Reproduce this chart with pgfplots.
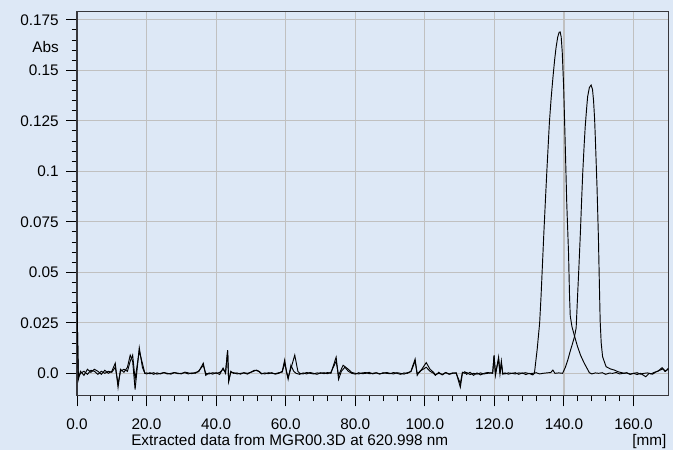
\documentclass[border=0pt]{standalone}
\usepackage{pgfplots}
\pgfplotsset{compat=1.18}
\usepackage{fontspec}
\setmainfont{Liberation Sans}
\definecolor{bgblue}{RGB}{221,232,246}
\definecolor{gridgray}{RGB}{192,192,192}
\definecolor{boxgray}{RGB}{55,55,60}
\begin{document}
\begin{tikzpicture}
\fill[bgblue] (0,0) rectangle (504.75pt,337.5pt);
\begin{axis}[
  at={(57.75pt,40.7pt)}, anchor=south west,
  width=443.5pt, height=288pt, scale only axis,
  xmin=0, xmax=170, ymin=-0.0111, ymax=0.179,
  xtick={0,20,40,60,80,100,120,140,160},
  xticklabels={0.0,20.0,40.0,60.0,80.0,100.0,120.0,140.0,160.0},
  ytick={0,0.025,0.05,0.075,0.1,0.125,0.15,0.175},
  yticklabels={0.0,0.025,0.05,0.075,0.1,0.125,0.15,0.175},
  minor x tick num=4, minor y tick num=4,
  xtick pos=bottom, ytick pos=left,
  tick align=outside, major tick length=8pt, minor tick length=4pt,
  tick style={black, line width=0.75pt},
  grid=major,
  major grid style={gridgray, line width=0.8pt},
  axis line style={boxgray, line width=1.1pt},
  /pgf/number format/assume math mode=true,
  ticklabel style={font=\fontsize{11.5}{13}\selectfont},
  yticklabel style={anchor=east, inner sep=0pt},
  yticklabel shift=5.5pt,
  xticklabel style={anchor=north, inner sep=0pt},
  xticklabel shift=9.4pt,
  clip=true,
]
% trace A (peak near 139 mm)
\addplot[black, line width=0.7pt] coordinates {
(0,0.035) (0.4,-0.003) (1,0.001) (2,-0.001) (3,0.002) (4,0.0005) (5,0.002) (6,0.001) (7,-0.0005) (8,0.0015) (9,0.0) (10,0.001)
(11,0.005) (11.8,-0.007) (12.5,0.002) (13.5,0.0005) (14.5,0.003) (15.3,0.009) (16.0,0.006) (16.7,-0.008) (17.9,0.0127) (18.8,0.003) (19.5,0.0)
(20,-0.0003) (21,0.0003) (22,-0.0005) (23,0.0002) (24,-0.0003) (25,0.0004) (26,0.0) (27,-0.0004) (28,0.0003) (29,0.0001) (30,-0.0003)
(31,0.0006) (32,0.0002) (33,-0.0002) (34,0.0004) (35,0.0008) (36.3,0.005) (37,-0.001) (38,0.0002) (39,-0.0004) (40,0.0003) (41,-0.0006)
(41.5,0.001) (42,0.0026) (42.7,0.0) (43.3,0.0115) (43.6,-0.004) (44.2,0.001) (45,0.0) (46,0.0002) (47,-0.0004) (48,0.0003) (49,0.0)
(50,0.0005) (51,0.0012) (51.6,0.0016) (52.5,0.0008) (53,-0.0003) (54,0.0002) (55,-0.0002) (56,0.0003) (57,-0.0004) (58,0.0) (59,0.001)
(59.7,0.0066) (60.3,0.0) (60.7,-0.003) (61.5,0.004) (62.3,0.001) (63,0.0) (64,-0.0005) (65,0.0002) (66,-0.0003) (67,0.0004) (68,0.0)
(69,-0.0005) (70,0.0003) (71,-0.0002) (72,0.0004) (73,0.0) (74.5,0.008) (75.2,-0.003) (76,0.001) (77,0.003) (78,0.001) (79,0.0)
(80,-0.0004) (81,0.0003) (82,-0.0002) (83,0.0) (84,0.0005) (85,-0.0003) (86,0.0002) (87,-0.0004) (88,0.0003) (89,0.0) (90,-0.0002)
(91,0.0004) (92,0.0) (93,-0.0005) (94,0.0002) (95,0.0) (96,0.001) (97.2,0.0071) (97.8,-0.001) (98.5,0.001) (99.5,0.002) (100.4,0.003)
(101.5,0.001) (102.5,0.0) (103,-0.001) (104,0.0005) (105,-0.0008) (106,0.0003) (107,-0.0005) (108,0.0) (109,0.0003) (110.2,-0.0069)
(110.8,0.0) (111.5,0.0008) (112,-0.0005) (113,0.0005) (114,-0.001) (115,0.0002) (116,-0.0008) (117,0.0) (118,0.0004) (119.5,0.0)
(119.9,0.009) (120.3,-0.001) (121.2,0.008) (121.6,0.0) (122,0.006) (122.4,-0.0005) (123,0.0002) (124,-0.0004) (125,0.0) (126,0.0003)
(127,-0.0005) (128,0.0002) (129,-0.0006) (130,0.0) (131,-0.0008) (131.5,0.0) (132.3,0.012) (133.0,0.0249) (133.4,0.0379) (134.2,0.069)
(134.7,0.087) (135.1,0.101) (135.8,0.124) (136.3,0.136) (136.8,0.146) (137.3,0.155) (137.7,0.161) (138.2,0.1665) (138.6,0.1688) (138.9,0.169)
(139.2,0.1665) (139.5,0.159) (139.9,0.142) (140.3,0.117) (140.8,0.084) (141.3,0.060) (141.6,0.038) (141.8,0.0285) (142.3,0.023) (143.1,0.018)
(143.9,0.0132) (144.8,0.0088) (145.8,0.0051) (147.3,0.0003) (148,-0.0003)
(149,0.0002) (150,0.0) (151,0.0003) (152,-0.0005) (153,0.0001) (154,0.0) (155,0.0004) (156,-0.0003) (157,0.0) (158,0.0002) (159,-0.0005)
(160,0.0) (161,0.0003) (162,-0.0004) (163,0.0) (164,0.0002) (165,-0.0003) (166,0.0005) (167,0.001) (168.2,0.0028) (169,0.001) (170,0.002)
};
% trace B (peak near 148 mm)
\addplot[black, line width=0.7pt] coordinates {
(0,0.034) (0.4,-0.002) (1,0.0) (2,0.001) (3,-0.0005) (4,0.0015) (5,0.001) (6,-0.0005) (7,0.001) (8,0.0) (9,0.001) (10,0.0005)
(11,0.003) (11.8,-0.005) (12.5,0.001) (13.5,0.002) (14.5,0.001) (15.3,0.006) (16.0,0.009) (16.7,-0.003) (17.9,0.011) (18.8,0.005) (19.5,0.0)
(20,0.0002) (21,-0.0002) (22,0.0003) (23,-0.0004) (24,0.0) (25,0.0003) (26,-0.0003) (27,0.0) (28,0.0004) (29,-0.0002) (30,0.0)
(31,0.0003) (32,-0.0003) (33,0.0002) (34,0.0) (35,0.0012) (36.3,0.004) (37,0.0) (38,-0.0003) (39,0.0003) (40,0.0) (41,0.0004)
(42,0.002) (42.7,0.0005) (43.3,0.011) (43.6,-0.004) (44.2,0.0005) (45,0.0003) (46,-0.0003) (47,0.0) (48,0.0002) (49,-0.0004) (50,0.0006)
(51,0.0015) (52,0.0012) (53,0.0) (54,-0.0003) (55,0.0003) (56,0.0) (57,-0.0002) (58,0.0003) (59,0.0006) (59.7,0.005) (60.3,0.0005)
(60.7,-0.002) (61.6,0.003) (62.6,0.009) (63.5,0.001) (64,0.0) (65,-0.0003) (66,0.0004) (67,0.0) (68,-0.0003) (69,0.0002) (70,0.0)
(71,0.0003) (72,-0.0002) (73,0.0005) (74.5,0.006) (75.2,-0.001) (76.5,0.004) (78,0.002) (79,0.0004) (80,0.0) (81,-0.0003) (82,0.0002)
(83,0.0004) (84,-0.0002) (85,0.0) (86,0.0003) (87,-0.0002) (88,0.0) (89,0.0004) (90,0.0) (91,-0.0003) (92,0.0003) (93,0.0) (94,-0.0004)
(95,0.0003) (96,0.0008) (97.2,0.006) (97.8,0.0) (98.5,0.0005) (99.5,0.003) (100.4,0.0053) (101.5,0.002) (102.5,0.0005) (103,-0.0007)
(104,0.0) (105,-0.0005) (106,0.0004) (107,-0.0003) (108,0.0002) (109,0.0) (110.2,-0.005) (110.8,0.0005) (111.5,0.0) (112,0.0004)
(113,-0.0006) (114,0.0) (115,-0.0004) (116,0.0002) (117,-0.0003) (118,0.0) (119.5,0.0003) (119.9,0.0085) (120.3,0.0) (121.2,0.007)
(121.6,-0.0005) (122,0.005) (122.4,0.0) (123,-0.0003) (124,0.0002) (125,0.0) (126,-0.0003) (127,0.0002) (128,0.0) (129,0.0003) (130,-0.0002)
(131,0.0) (132,0.0003) (133,-0.0003) (134,0.0) (135,0.0002) (136.2,0.0004) (136.8,0.0016) (137.4,0.0) (138.5,0.0002) (139.6,0.0)
(140.4,0.003) (141.1,0.0066) (141.8,0.011) (142.5,0.015) (143.0,0.018) (143.5,0.0225) (143.9,0.038) (144.3,0.053) (144.7,0.069) (145.1,0.087)
(145.4,0.0996) (145.8,0.113) (146.1,0.122) (146.5,0.131) (146.8,0.137) (147.3,0.1415) (147.8,0.1427) (148.2,0.1405) (148.5,0.135)
(148.8,0.126) (149.0,0.117) (149.5,0.092) (149.9,0.067) (150.2,0.042) (150.4,0.026) (150.7,0.015) (151.1,0.0082) (152.1,0.0033)
(153.3,0.0022) (154.5,0.0016) (155.5,0.0008) (157.3,0.0) (158,0.0003) (159,-0.0004) (160,0.0) (161,-0.0006) (162,0.0) (163.5,-0.0017)
(164.5,0.0) (165.5,-0.0004) (166.5,0.0008) (167.5,0.0015) (168.5,0.0022) (169.2,0.001) (170,0.0025)
};
\end{axis}
\node[anchor=east, inner sep=0pt, font=\fontsize{11.5}{13}\selectfont] at (44.25pt,302.5pt) {Abs};
\node[anchor=base west, inner sep=0pt, font=\fontsize{11.5}{13}\selectfont] at (98.25pt,3.6pt) {Extracted data from MGR00.3D at 620.998 nm};
\node[anchor=base east, inner sep=0pt, font=\fontsize{11.5}{13}\selectfont] at (500pt,3.6pt) {[mm]};
\end{tikzpicture}
\end{document}
